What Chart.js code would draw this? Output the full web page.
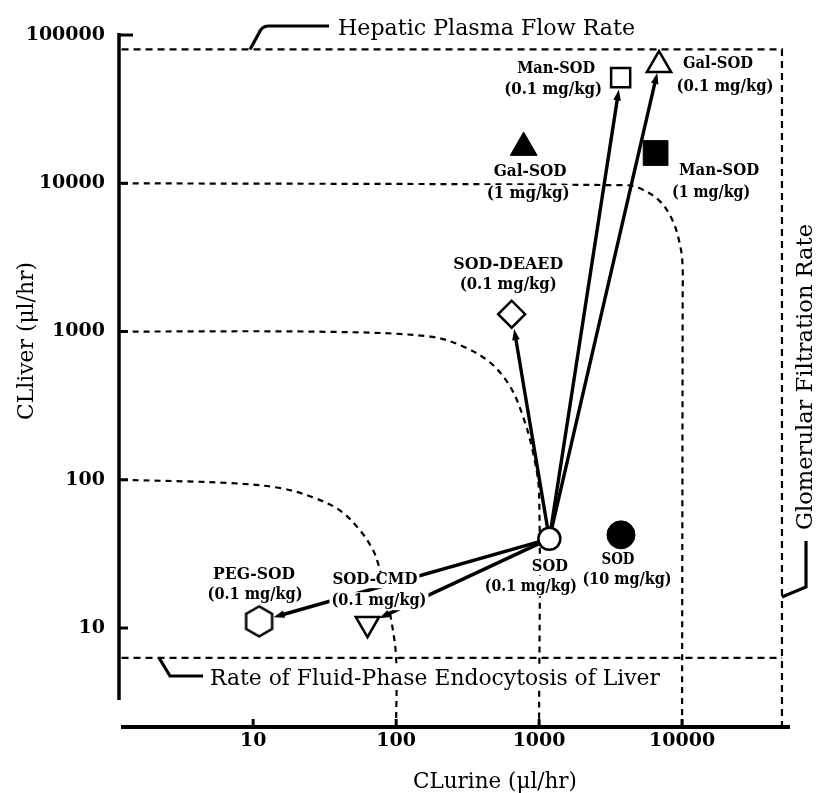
<!DOCTYPE html>
<html>
<head>
<meta charset="utf-8">
<script src="https://cdn.jsdelivr.net/npm/chart.js@4.4.0/dist/chart.umd.min.js"></script>
<style>
  html, body { margin: 0; padding: 0; background: #fff; }
  #wrap { width: 819px; height: 793px; position: relative; }
</style>
</head>
<body>
<div id="wrap"><canvas id="myChart"></canvas></div>
<script>
// clearances (ul/hr)
var compounds = ['SOD', 'SOD', 'PEG-SOD', 'SOD-CMD', 'SOD-DEAED', 'Gal-SOD', 'Gal-SOD', 'Man-SOD', 'Man-SOD'];
var doses = ['(0.1 mg/kg)', '(10 mg/kg)', '(0.1 mg/kg)', '(0.1 mg/kg)', '(0.1 mg/kg)', '(0.1 mg/kg)', '(1 mg/kg)', '(0.1 mg/kg)', '(1 mg/kg)'];
var clUrine = [1180, 3740, 11, 63, 643, 6900, 780, 3720, 6530];
var clLiver = [40, 42.5, 11.1, 10.7, 1310, 62700, 17400, 51600, 16000];

// arrows go from native SOD (0.1 mg/kg) to these
var arrowTo = [2, 3, 4, 7, 5];

// reference rates
var hepaticFlow = 80000;
var gfrRate = 50000;
var fluidPhase = 6.3;

// iso-clearance curves
var curve100x = [1.2, 6.9, 15.4, 26.3, 40.6, 56, 69, 75, 84, 91, 100, 100];
var curve100y = [100, 95, 88, 76, 62, 45.5, 33.5, 27, 17.8, 12.4, 6.3, 2.15];
var curve1000x = [1.2, 34.5, 173, 294, 454, 627, 773, 908, 1000, 1000];
var curve1000y = [1000, 995, 925, 793, 618, 426, 266, 152, 81, 2.15];
var curve10000x = [1.2, 4120, 5080, 7010, 8650, 9800, 10100, 10100, 10000];
var curve10000y = [10000, 9700, 9250, 7550, 5520, 3620, 2660, 1750, 2.15];

var xTicks = [10, 100, 1000, 10000];
var xTickLabels = ['10', '100', '1000', '10000'];
var yTicks = [10, 100, 1000, 10000, 100000];
var yTickLabels = ['10', '100', '1000', '10000', '100000'];
var xMin = 1.19, xMax = 56900, yMin = 2.15, yMax = 103200;

// marker looks
var INK = '#000';
function makeHexagon(r, lw) {
  var s = Math.ceil(2 * r + lw + 2);
  var c = document.createElement('canvas');
  c.width = s; c.height = s;
  var g = c.getContext('2d');
  g.beginPath();
  for (var i = 0; i < 6; i++) {
    var a = Math.PI / 2 + i * Math.PI / 3;
    var px = s / 2 + r * Math.cos(a), py = s / 2 - r * Math.sin(a);
    if (i) g.lineTo(px, py); else g.moveTo(px, py);
  }
  g.closePath();
  g.fillStyle = '#fff'; g.fill();
  g.lineWidth = lw; g.strokeStyle = INK; g.stroke();
  return c;
}
var markers = [
  {style: 'circle', r: 11, fill: '#fff', rot: 0, edge: 12},
  {style: 'circle', r: 14, fill: INK, rot: 0},
  {style: makeHexagon(15, 2.5), r: 15, fill: '#fff', rot: 0, edge: 15},
  {style: 'triangle', r: 13.5, fill: '#fff', rot: 180, edge: 13},
  {style: 'rectRot', r: 13.5, fill: '#fff', rot: 0, edge: 15},
  {style: 'triangle', r: 14, fill: '#fff', rot: 0, edge: 8},
  {style: 'triangle', r: 15.5, fill: INK, rot: 0},
  {style: 'rect', r: 13.5, fill: '#fff', rot: 0, edge: 12},
  {style: 'rect', r: 17.5, fill: INK, rot: 0}
];
// label placement relative to marker: [nameDx, nameDy, nameW, doseDx, doseDy, doseW]
var labelPos = [
  [0.5, 28.5, 36, -18.5, 48.5, 92],
  [-3, 25, 33, 6, 45, 89],
  [-5, -46, 82, -4, -26, 95],
  [7.5, -43.5, 85, 11.5, -22.5, 95],
  [-3.5, -49.5, 110, -3.5, -29.5, 97],
  [59, -1, 70, 66, 22, 97],
  [6.5, 24.5, 73, 4.5, 46.5, 83],
  [-64.5, -8.5, 78, -67.5, 12.5, 98],
  [63.5, 18, 80, 55.5, 40, 78]
];

function zip(xs, ys) {
  return xs.map(function(v, i) { return {x: v, y: ys[i]}; });
}
function refLine(pts, dash) {
  return {
    data: pts, showLine: true, borderColor: INK, borderWidth: 2.2, borderDash: dash,
    pointRadius: 0, tension: 0.35, fill: false, order: 10
  };
}

var datasets = [
  refLine(zip(curve100x, curve100y), [6, 5]),
  refLine(zip(curve1000x, curve1000y), [6, 5]),
  refLine(zip(curve10000x, curve10000y), [6, 5]),
  refLine([{x: 1.2, y: hepaticFlow}, {x: gfrRate, y: hepaticFlow}, {x: gfrRate, y: 2.15}], [7, 5]),
  refLine([{x: 1.2, y: fluidPhase}, {x: gfrRate, y: fluidPhase}], [7, 5])
];
datasets[3].tension = 0;
datasets[4].tension = 0;

compounds.forEach(function(name, i) {
  var m = markers[i];
  datasets.push({
    label: name + ' ' + doses[i],
    data: [{x: clUrine[i], y: clLiver[i]}],
    pointStyle: m.style, pointRadius: m.r, pointRotation: m.rot,
    backgroundColor: m.fill, borderColor: INK, borderWidth: m.fill === INK ? 1 : 2.5,
    order: 1
  });
});

function fitText(ctx, txt, x, y, font, w, opts) {
  opts = opts || {};
  ctx.save();
  ctx.font = font;
  ctx.textAlign = 'center';
  ctx.textBaseline = opts.baseline || 'middle';
  var m = ctx.measureText(txt).width;
  ctx.translate(x, y);
  if (opts.rot) ctx.rotate(opts.rot);
  if (opts.bg) {
    ctx.fillStyle = '#fff';
    ctx.fillRect(-w / 2 - 2, -opts.bg / 2, w + 4, opts.bg);
  }
  ctx.scale(w / m, 1);
  ctx.fillStyle = INK;
  ctx.fillText(txt, 0, 0);
  ctx.restore();
}

function drawArrow(ctx, x1, y1, x2, y2) {
  var dx = x2 - x1, dy = y2 - y1, len = Math.hypot(dx, dy);
  var ux = dx / len, uy = dy / len, L = 11, W = 3.8;
  var bx = x2 - ux * L, by = y2 - uy * L;
  ctx.beginPath();
  ctx.moveTo(x1, y1);
  ctx.lineTo(bx + ux * 2, by + uy * 2);
  ctx.lineWidth = 3.4;
  ctx.stroke();
  ctx.beginPath();
  ctx.moveTo(x2, y2);
  ctx.lineTo(bx - uy * W, by + ux * W);
  ctx.lineTo(bx + uy * W, by - ux * W);
  ctx.closePath();
  ctx.fill();
}

var notes = {
  id: 'notes',
  afterDatasetsDraw: function(chart) {
    var ctx = chart.ctx, xs = chart.scales.x, ys = chart.scales.y, a = chart.chartArea;
    ctx.save();
    ctx.strokeStyle = INK; ctx.fillStyle = INK; ctx.lineCap = 'butt';

    // axes, drawn offset like the print
    var ax = a.left - 2;
    ctx.lineWidth = 3.5;
    ctx.beginPath(); ctx.moveTo(ax, a.top); ctx.lineTo(ax, a.bottom - 27); ctx.stroke();
    ctx.lineWidth = 4;
    ctx.beginPath(); ctx.moveTo(a.left, a.bottom); ctx.lineTo(a.right, a.bottom); ctx.stroke();
    ctx.lineWidth = 3;
    yTicks.forEach(function(v, i) {
      var py = ys.getPixelForValue(v);
      ctx.beginPath(); ctx.moveTo(ax, py); ctx.lineTo(ax + (i === yTicks.length - 1 ? 14 : 9), py); ctx.stroke();
    });
    xTicks.forEach(function(v) {
      var px = xs.getPixelForValue(v);
      ctx.beginPath(); ctx.moveTo(px, a.bottom); ctx.lineTo(px, a.bottom - 8); ctx.stroke();
    });

    // arrows from SOD
    var sx = xs.getPixelForValue(clUrine[0]), sy = ys.getPixelForValue(clLiver[0]);
    ctx.lineCap = 'round';
    arrowTo.forEach(function(i) {
      var tx = xs.getPixelForValue(clUrine[i]), ty = ys.getPixelForValue(clLiver[i]);
      var dx = tx - sx, dy = ty - sy, len = Math.hypot(dx, dy), ux = dx / len, uy = dy / len;
      drawArrow(ctx, sx + ux * markers[0].edge, sy + uy * markers[0].edge,
        tx - ux * markers[i].edge, ty - uy * markers[i].edge);
    });

    // point labels
    var bold = 'bold 16px "DejaVu Serif"';
    compounds.forEach(function(name, i) {
      var px = xs.getPixelForValue(clUrine[i]), py = ys.getPixelForValue(clLiver[i]);
      var p = labelPos[i];
      fitText(ctx, name, px + p[0], py + p[1], bold, p[2], {bg: 16});
      fitText(ctx, doses[i], px + p[3], py + p[4], bold, p[5], {bg: 18});
    });

    // reference line notes and their leaders
    var reg = '23px "DejaVu Serif"';
    var hy = ys.getPixelForValue(hepaticFlow);
    var fy = ys.getPixelForValue(fluidPhase);
    var gx = xs.getPixelForValue(gfrRate);
    ctx.lineCap = 'butt';
    ctx.lineWidth = 3.2;
    ctx.beginPath(); ctx.moveTo(250, hy); ctx.lineTo(259, 33); ctx.quadraticCurveTo(262, 26, 268, 26); ctx.lineTo(329, 26); ctx.stroke();
    fitText(ctx, 'Hepatic Plasma Flow Rate', 486.5, 35, reg, 297, {baseline: 'alphabetic'});

    ctx.beginPath(); ctx.moveTo(159, fy); ctx.lineTo(170, 676); ctx.lineTo(203, 676); ctx.stroke();
    ctx.fillStyle = '#fff'; ctx.fillRect(208, 667, 454, 22);
    fitText(ctx, 'Rate of Fluid-Phase Endocytosis of Liver', 435, 685, reg, 450, {baseline: 'alphabetic'});

    ctx.beginPath(); ctx.moveTo(gx, 597); ctx.lineTo(806, 587); ctx.lineTo(806, 541); ctx.stroke();
    fitText(ctx, 'Glomerular Filtration Rate', 812, 377, reg, 306, {baseline: 'alphabetic', rot: -Math.PI / 2});

    // axis titles
    fitText(ctx, 'CLliver (\u03bcl/hr)', 33, 341, '22px "DejaVu Serif"', 158, {baseline: 'alphabetic', rot: -Math.PI / 2});
    fitText(ctx, 'CLurine (\u03bcl/hr)', 495, 788, '22px "DejaVu Serif"', 164, {baseline: 'alphabetic'});
    ctx.restore();
  }
};

var tickFont = {family: 'DejaVu Serif', size: 19, weight: 'bold'};
var ctx = document.getElementById('myChart');
new Chart(ctx, {
  type: 'scatter',
  data: {datasets: datasets},
  options: {
    responsive: true,
    maintainAspectRatio: false,
    animation: false,
    devicePixelRatio: 1,
    events: [],
    layout: {padding: {top: 33, right: 29, left: 0, bottom: 0}},
    plugins: {legend: {display: false}, tooltip: {enabled: false}},
    scales: {
      x: {
        type: 'logarithmic', min: xMin, max: xMax,
        grid: {display: false, drawTicks: false}, border: {display: false},
        afterBuildTicks: function(s) { s.ticks = xTicks.map(function(v) { return {value: v}; }); },
        afterFit: function(s) { s.height = 66; },
        ticks: {
          font: tickFont, color: INK, padding: 3, maxRotation: 0, autoSkip: false,
          callback: function(v, i) { return xTickLabels[i]; }
        }
      },
      y: {
        type: 'logarithmic', min: yMin, max: yMax,
        grid: {display: false, drawTicks: false}, border: {display: false},
        afterBuildTicks: function(s) { s.ticks = yTicks.map(function(v) { return {value: v}; }); },
        afterFit: function(s) { s.width = 121; },
        ticks: {
          font: tickFont, color: INK, padding: 16, autoSkip: false,
          callback: function(v, i) { return yTickLabels[i]; }
        }
      }
    }
  },
  plugins: [notes]
});
</script>
</body>
</html>
